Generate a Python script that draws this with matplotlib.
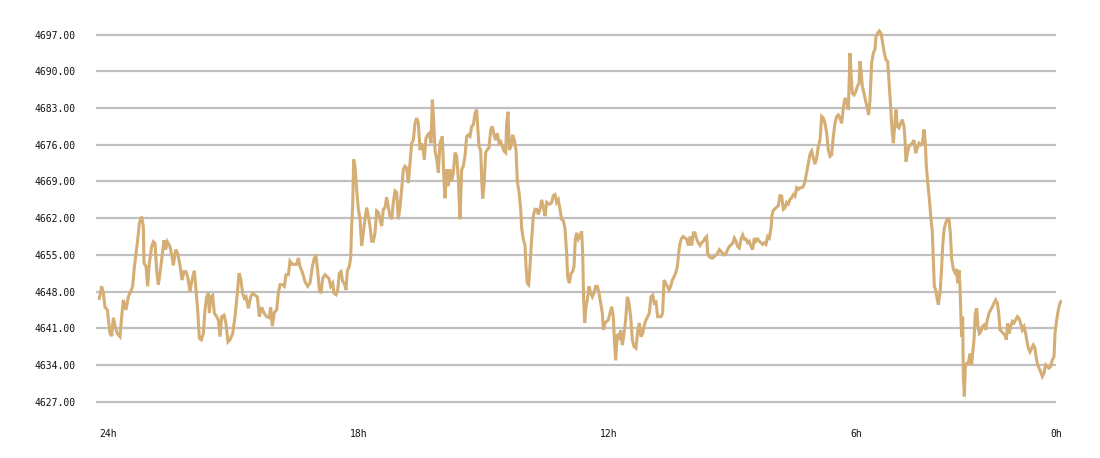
import matplotlib
matplotlib.use("Agg")
import matplotlib.pyplot as plt

# elapsed minutes since start of the 24h window, and price
minutes = [
 0.5,4,6.5,9,12.5,16.5,19,21.5,24,27.5,31.5,34,36.5,40.5,44,47.5,50.5,52.5,55.5,58,60.5,64,66.5,67.5,70.5,73,75.5,79,81.5,84,86.5,89,91.5,94.5,97.5,100,102.5,106.5,109,111.5,115,118,121.5,124.5,127.5,130.5,133,136.5,139.5,143,145.5,148,150.5,153.5,156.5,159,161.5,164,165.5,168,170.5,173,176.5,179,181.5,184,187.5,190.5,193.5,196.5,200.5,204,207.5,210,212.5,215.5,218,220.5,224,227.5,230.5,234,237.5,240.5,244,247.5,251.5,255.5,
 257.5,260,263,266.5,269,271.5,275.5,278,280.5,284,286.5,290,294,296.5,299,301.5,305.5,309,313,316.5,320,323,325.5,328,330.5,333,335.5,339,341.5,345,347.5,350.5,352.5,355.5,358,360.5,363,365.5,368,370.5,372.5,375.5,377.5,379,380.5,382,384,386.5,389,391.5,394,396.5,399,401.5,404,406.5,409,411.5,414,416.5,419,421.5,424,426.5,429,431.5,434,436.5,439,441.5,444,446.5,449,451.5,454,456.5,459,461.5,464,466.5,469,471.5,474,476.5,479,481.5,484,486.5,488,490.5,493,495.5,498,500,502,504,506.5,509,511.5,
 515,517.5,519,521.5,524,526.5,529,531.5,534,536.5,539,541.5,544,546.5,549,551.5,554,556.5,559,561.5,564,566.5,568,570,572.5,574,575.5,577.5,580,582.5,585,587.5,590,592.5,595,597.5,600,602.5,605,607.5,610,611.5,613.5,615.5,618,620.5,623,625.5,627.5,630,632.5,634,636.5,639,640.5,642.5,644.5,646.5,649,651.5,654,656.5,659,661.5,664,666.5,669,671.5,674,676.5,679,681.5,684,686.5,689,691.5,694,696.5,699,701.5,703,705.5,708,710.5,712.5,714.5,716.5,719,721.5,724,725.5,727,728.5,730.5,732.5,735,737.5,740,742.5,745,747.5,750,752.5,755,756.5,759,761.5,764,766.5,
 769,771.5,773,775,777.5,780,782.5,785,787.5,790,792.5,795,797.5,800,802.5,805.5,808,810.5,813,815.5,818,820.5,823,825.5,828,830.5,833,835.5,838,840.5,843,845.5,847.5,850,852.5,855,857.5,860,862.5,865,867.5,869.5,871.5,874,876.5,879,881.5,884,886.5,889,891.5,894,896.5,899,901.5,904,906.5,909,911.5,913,915,918,920.5,923,925.5,928,930.5,933,935.5,938,940.5,943,945.5,948,950.5,953,955.5,958,960.5,963,965.5,968,970.5,973,975.5,978,980.5,983,985.5,988,990.5,993,995.5,998,1000.5,1003,1005.5,1008,1009.5,1011.5,1014,1016.5,1019,1021.5,
 1024,1026.5,1029,1031.5,1034,1036.5,1039,1041.5,1044,1046.5,1049,1051.5,1054,1056.5,1059,1061.5,1064,1066.5,1069,1071.5,1074,1076.5,1079,1081.5,1084,1086.5,1089,1091.5,1094,1096.5,1099,1101.5,1104,1106.5,1109,1111.5,1114,1116.5,1119,1121.5,1124,1126.5,1128,1130,1132.5,1135,1137.5,1140,1141.5,1143,1145,1147.5,1150,1152.5,1154.5,1156.5,1159,1161.5,1164,1165.5,1168,1170.5,1173,1175.5,1178,1180.5,1183,1185.5,1187.5,1189.5,1191.5,1193.5,1195.5,1197.5,1200,1202.5,1205,1207.5,1209,1210.5,1212.5,1215,1217.5,1220,1222.5,1225,1227.5,1230,1232.5,1235,1237.5,1239.5,1241,1243,
 1246,1248,1250,1251.5,1253,1255,1257.5,1259,1261.5,1263.5,1265.5,1267.5,1270,1272.5,1275,1277,1279,1281.5,1284,1286.5,1288,1290,1291.5,1293,1294,1295.5,1296.5,1298,1299.5,1301.5,1304,1306.5,1309,1310.5,1312.5,1314.5,1316.5,1318.5,1320.5,1322.5,1325,1327.5,1330,1332.5,1335,1337.5,1340,1342.5,1345,1347.5,1349.5,1351.5,1354,1356.5,1359,1361,1363,1365,1367.5,1370,1372.5,1375,1377.5,1380,1382.5,1385,1387.5,1390,1391.5,1394,1396.5,1399,1401.5,1404,1405.5,1407.5,1410,1412.5,1415,1417.5,1420,1422.5,1425,1427.5,1430,1432.5,1434,1436.5,1439,1441.5,1443,
]
price = [
 4646.7,4649,4647.7,4645,4644.5,4640,4639.5,4643,4641.5,4640,4639.4,4643.2,4646.4,4644.5,4647,4648,4649,4652,4655.3,4657.8,4661,4662.3,4660.4,4653.4,4652.8,4649,4653.4,4656.6,4657.5,4657.2,4652,4649.3,4651.5,4654.7,4657.8,4656,4657.5,4656.6,4655,4653,4656,4655.3,4653,4650.2,4651.8,4651.8,4650.8,4648,4650.2,4652,4648.3,4644.5,4639.1,4638.8,4640,4644.5,4647,4647.7,4643.9,4647,4647.3,4643.9,4643.2,4642.6,4639.4,4643.2,4643.5,4641.9,4638.4,4638.8,4640,4643.2,4647.7,4651.5,4650.5,4647.7,4646.7,4647,4644.8,4647,4647.7,4647.3,4647,4643.2,4645,4643.9,4643.2,4643,
 4645,4641.4,4644,4644.5,4647.7,4649.3,4649.3,4649,4651.2,4651.2,4653.8,4653.2,4653.2,4653.2,4654.4,4652.8,4651.5,4649.9,4649,4649.6,4652.8,4654.4,4654.7,4652,4648.3,4647.7,4650.5,4651.2,4650.9,4650.5,4649,4649.6,4647.7,4647.4,4648.3,4651.5,4651.8,4649.9,4649.6,4648.3,4652,4652.8,4654.4,4660.5,4664.3,4673.2,4671.9,4667.5,4663.7,4661.8,4656.7,4659.2,4661.8,4664,4662.4,4660.5,4657.6,4657.6,4659.2,4663.4,4663.1,4661.8,4660.5,4663.7,4664,4666,4664.1,4662.4,4661.8,4665,4667.2,4666.9,4661.8,4664.1,4667.5,4671.3,4671.9,4671.6,4668.7,4672.6,4676.3,4676.9,4680.1,4681.1,4680.1,4675,4676.3,4674.8,4673.2,4677.3,4677.9,4678.2,4676.3,4684.6,4680.8,4675,4673.2,4670.7,4676.3,
 4677.6,4669,4665.8,4671.3,4668.1,4671.3,4669,4670.7,4674.5,4673.9,4669.5,4661.8,4671.3,4671.9,4673.9,4677.6,4677.9,4677.6,4679.5,4679.8,4682,4682.7,4679.5,4675.7,4675,4669.5,4665.7,4668.2,4674.5,4675.1,4675.4,4678.8,4679.5,4677.9,4676.9,4678.2,4676.3,4676.6,4675.7,4674.8,4674.5,4680.1,4682.3,4675,4675.7,4677.9,4676.9,4675,4669,4667,4663.8,4660,4658,4656.8,4652.8,4649.6,4649.3,4652.8,4658,4662.4,4663.7,4663.7,4662.7,4663.7,4665.5,4664.1,4662.4,4665,4664.7,4664.7,4665,4666.3,4666.5,4665,4665.5,4663.7,4661.8,4661.5,4660,4655.2,4650.8,4649.6,4651.5,4651.8,4652.8,4658,4659.2,4658,4658.6,4659.5,4655.3,4646.4,4642,4645.1,4646.4,4649,4647.7,4647,4647.7,4649,4649,4647.7,4645.8,4643.9,4640.7,4642,4642.3,4642.6,4643.9,
 4645.1,4643.2,4638.8,4634.9,4639.9,4639.3,4640.6,4637.8,4640,4642.6,4647,4645.8,4643.2,4638.8,4637.5,4637.2,4640.4,4642,4639.4,4640,4641.6,4642.6,4643.2,4643.9,4647,4647.3,4645.8,4646,4643.2,4643.2,4643.2,4643.9,4650.2,4649.6,4649,4648.3,4649,4650.2,4650.8,4651.5,4652.8,4655.3,4657.2,4658.2,4658.5,4658.2,4658,4656.8,4658.5,4656.8,4659.2,4659.2,4658,4657.3,4656.8,4657.3,4657.6,4658.2,4658.5,4655.3,4654.7,4654.4,4654.4,4654.7,4655,4655.3,4656,4655.7,4655.3,4655,4655.3,4656,4656.6,4656.9,4657.2,4658.2,4657.6,4656.6,4656.3,4658,4658.8,4658,4658,4657.3,4657.6,4656.6,4656,4658.2,4657.6,4658,4657.6,4657.3,4657,4657.3,4657,4658.5,4658.2,4660.1,4662.6,4663.5,4663.8,4664.1,4664.4,4666.3,
 4666.2,4663.7,4664,4665,4664.7,4665.6,4665.9,4666.5,4666.2,4667.8,4667.5,4667.8,4667.8,4668.1,4669,4670.7,4672.3,4674.2,4674.8,4673.5,4672.3,4673.5,4675.7,4676.9,4681.4,4681.1,4680.1,4678.2,4675,4673.8,4674.1,4677.6,4680.1,4681.4,4681.7,4681.1,4680.1,4683,4684.9,4684.3,4682.7,4693.5,4689.7,4685.8,4685.5,4686.1,4687.1,4687.8,4691.9,4690.3,4687.1,4685.8,4684.3,4682.7,4681.7,4684.6,4691.6,4693.5,4694.2,4696.7,4697.3,4697.7,4697.3,4695.4,4693.5,4692.2,4691.9,4687.1,4683.3,4678.9,4676.3,4679.5,4682.7,4679.5,4679.2,4680.1,4680.8,4679.5,4676.9,4672.8,4674.4,4675.7,4676,4676.3,4676.9,4674.4,4675.4,4676.3,4676,4676.3,4678.9,4676.3,4671.9,4669,
 4665,4661.8,4659.3,4654.2,4649,4648.3,4646.4,4645.5,4647.7,4651.5,4656.6,4659.8,4661.1,4661.8,4661.8,4659.2,4654.2,4652.3,4651.6,4652.3,4649.6,4652.1,4649,4642.6,4639.4,4643.2,4631.8,4628,4633.6,4634.3,4634.3,4636.2,4634,4636.2,4638.8,4643.9,4644.8,4641.3,4640,4640.3,4641.3,4641.6,4640.7,4642.6,4643.9,4644.5,4645.1,4645.8,4646.4,4645.8,4643.9,4640.7,4640.4,4640,4639.7,4638.8,4641.9,4640,4641.3,4642.3,4642,4642.6,4643.2,4642.9,4641.9,4640.7,4641.3,4640,4638.8,4637.2,4636.5,4637.2,4637.8,4637.2,4635.6,4634.3,4633.4,4632.7,4631.8,4632.4,4634,4633.7,4633.4,4633.7,4635,4635.6,4640,4642.6,4644.5,4645.8,4646.1,
]

y_ticks = [4627, 4634, 4641, 4648, 4655, 4662, 4669, 4676, 4683, 4690, 4697]
x_tick_minutes = [13, 389, 764, 1136, 1436]
x_tick_labels = ["24h", "18h", "12h", "6h", "0h"]

LINE = "#D4AE74"
GRID = "#C0C0C0"

fig = plt.figure(figsize=(11, 4.58), dpi=100)
ax = fig.add_axes([96/1100, 1 - 406.9/458, (1062-96)/1100, (406.9-24.2)/458])
ax.set_xlim(-4.5, 1444.5)
ax.set_ylim(4626, 4699)

for v in y_ticks:
    ax.axhline(v, xmin=0, xmax=(1055-96)/(1062-96), color=GRID, lw=1.6, zorder=1)

ax.plot(minutes, price, color=LINE, lw=2.2, zorder=3, solid_joinstyle="miter")

for s in ax.spines.values():
    s.set_visible(False)

ax.set_yticks(y_ticks)
ax.set_yticklabels([f"{v:.2f}" for v in y_ticks], family="DejaVu Sans Mono", fontsize=7, color="#111111")
ax.set_xticks(x_tick_minutes)
ax.set_xticklabels(x_tick_labels, family="DejaVu Sans Mono", fontsize=7, color="#111111")
ax.tick_params(axis="y", length=0, pad=14.5)
ax.tick_params(axis="x", length=0, pad=16)

fig.savefig("out.png", dpi=100)
